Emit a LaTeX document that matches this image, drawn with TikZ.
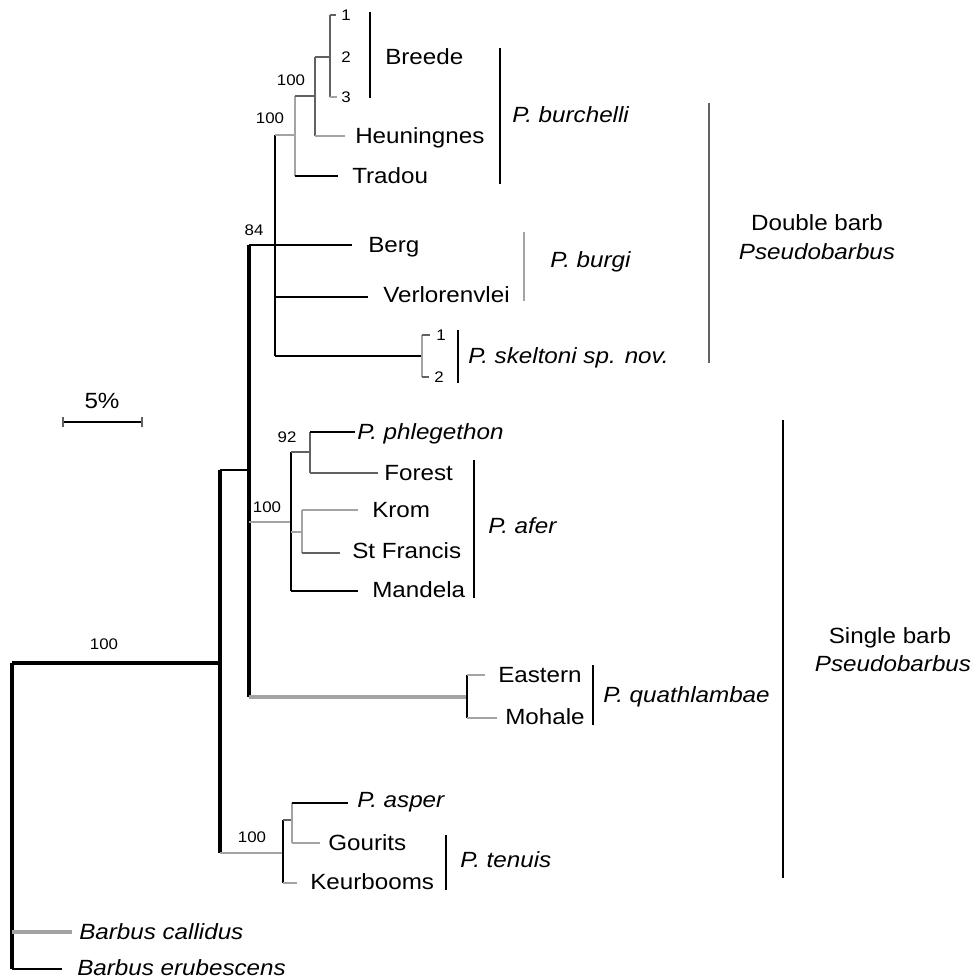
\documentclass[tikz,border=0pt]{standalone}
\usepackage{fontspec}
\setmainfont{Liberation Sans}[FakeStretch=1.1]
\definecolor{lg}{gray}{0.64}
\definecolor{dg}{gray}{0.38}
\begin{document}
\begin{tikzpicture}[x=0.75pt,y=-0.75pt,
  br/.style={line width=1.7pt,black},
  thk/.style={line width=2.4pt,black},
  gbr/.style={line width=1.7pt,lg},
  dbr/.style={line width=1.7pt,dg},
  bar/.style={line width=1.8pt,black},
  lab/.style={anchor=west,inner sep=0pt,text height=11.8pt,text depth=0pt,font=\fontsize{16.5}{19}\selectfont},
  ilab/.style={lab,font=\fontsize{16.5}{19}\selectfont\itshape},
  clab/.style={anchor=center,inner sep=0pt,text height=11.8pt,text depth=0pt,font=\fontsize{16.5}{19}\selectfont},
  num/.style={anchor=center,inner sep=0pt,text height=8.2pt,text depth=0pt,font=\fontsize{11.5}{13}\selectfont}]
\useasboundingbox (0,0) rectangle (972,980);
% ---------- coordinates ----------
\coordinate (Rt) at (12,663); \coordinate (Rb) at (12,969); \coordinate (Rc) at (12,932);
\coordinate (callT) at (72,932); \coordinate (eruT) at (62,969);
\coordinate (As) at (220,663); \coordinate (At) at (220,470); \coordinate (Ab) at (220,853);
\coordinate (Bs) at (249,470); \coordinate (Bt) at (249,245); \coordinate (Bb) at (249,697);
\coordinate (Bf) at (249,522);
\coordinate (Cs) at (275,245); \coordinate (Ct) at (275,135); \coordinate (Cb) at (275,356);
\coordinate (Cv) at (275,297);
\coordinate (bergT) at (352,245); \coordinate (verlT) at (368,297);
\coordinate (Ds) at (295,135); \coordinate (Dt) at (295,96); \coordinate (Db) at (295,176);
\coordinate (tradT) at (338,176);
\coordinate (Es) at (315,96); \coordinate (Et) at (315,57); \coordinate (Eb) at (315,136);
\coordinate (heunT) at (345,136);
\coordinate (Brs) at (330,57); \coordinate (Brt) at (330,15); \coordinate (Brb) at (330,97);
\coordinate (br1) at (336,15); \coordinate (br3) at (337,97);
\coordinate (Sks) at (422,356); \coordinate (Skt) at (422,335); \coordinate (Skb) at (422,377);
\coordinate (sk1) at (430,335); \coordinate (sk2) at (429,377);
\coordinate (Fs) at (291,522); \coordinate (Ft) at (291,452); \coordinate (Fb) at (291,591);
\coordinate (Fk) at (291,532); \coordinate (mandT) at (358,591);
\coordinate (Gs) at (310,452); \coordinate (Gt) at (310,432); \coordinate (Gb) at (310,473);
\coordinate (phlT) at (355,432); \coordinate (forT) at (378,473);
\coordinate (Ks) at (302,532); \coordinate (Kt) at (302,510); \coordinate (Kb) at (302,553);
\coordinate (kromT) at (358,510); \coordinate (stfT) at (340,553);
\coordinate (Qs) at (467,697); \coordinate (Qt) at (467,675); \coordinate (Qb) at (467,718);
\coordinate (eastT) at (485,675); \coordinate (mohT) at (497,718);
\coordinate (Ts) at (283,853); \coordinate (Tt) at (283,820); \coordinate (Tb) at (283,883);
\coordinate (keuT) at (297,883);
\coordinate (Us) at (292,820); \coordinate (Ut) at (292,803); \coordinate (Ub) at (292,843);
\coordinate (aspT) at (348,803); \coordinate (gouT) at (320,843);
% ---------- branches ----------
\draw[thk] (Rt) -- (Rb);
\draw[thk] (Rt) -- (As);
\draw[line width=2.4pt,lg] (Rc) -- (callT);
\draw[br] (Rb) -- (eruT);
\draw[thk] (At) -- (Ab);
\draw[br] (At) -- (Bs);
\draw[gbr] (Ab) -- (Ts);
\draw[thk] (Bt) -- (Bb);
\draw[br] (Bt) -- (Cs) -- (bergT);
\draw[gbr] (Bf) -- (Fs);
\draw[line width=2.4pt,lg] (Bb) -- (Qs);
\draw[br] (Ct) -- (Cb);
\draw[gbr] (Ct) -- (Ds);
\draw[br] (Cv) -- (verlT);
\draw[br] (Cb) -- (Sks);
\draw[gbr] (Dt) -- (Db);
\draw[dbr] (Dt) -- (Es);
\draw[br] (Db) -- (tradT);
\draw[dbr] (Et) -- (Eb);
\draw[dbr] (Et) -- (Brs);
\draw[gbr] (Eb) -- (heunT);
\draw[dbr] (Brt) -- (Brb);
\draw[dbr] (Brt) -- (br1);
\draw[gbr] (Brb) -- (br3);
\draw[gbr] (Skt) -- (Skb);
\draw[dbr] (Skt) -- (sk1);
\draw[dbr] (Skb) -- (sk2);
\draw[br] (Ft) -- (Fb);
\draw[dbr] (Ft) -- (Gs);
\draw[gbr] (Fk) -- (Ks);
\draw[br] (Fb) -- (mandT);
\draw[dbr] (Gt) -- (Gb);
\draw[br] (Gt) -- (phlT);
\draw[dbr] (Gb) -- (forT);
\draw[gbr] (Kt) -- (Kb);
\draw[gbr] (Kt) -- (kromT);
\draw[dbr] (Kb) -- (stfT);
\draw[br] (Qt) -- (Qb);
\draw[gbr] (Qt) -- (eastT);
\draw[gbr] (Qb) -- (mohT);
\draw[br] (Tt) -- (Tb);
\draw[dbr] (Tt) -- (Us);
\draw[gbr] (Tb) -- (keuT);
\draw[gbr] (Ut) -- (Ub);
\draw[br] (Ut) -- (aspT);
\draw[gbr] (Ub) -- (gouT);
% ---------- group bars ----------
\coordinate (breA) at (370,12); \coordinate (breB) at (370,98);
\coordinate (burA) at (500,48); \coordinate (burB) at (500,184);
\coordinate (bgA) at (524,232); \coordinate (bgB) at (524,301);
\coordinate (skA) at (458,330); \coordinate (skB) at (458,383);
\coordinate (dbA) at (709,103); \coordinate (dbB) at (709,363);
\coordinate (afA) at (474,460); \coordinate (afB) at (474,598);
\coordinate (quA) at (593,665); \coordinate (quB) at (593,725);
\coordinate (sbA) at (783,420); \coordinate (sbB) at (783,878);
\coordinate (teA) at (446,835); \coordinate (teB) at (446,890);
\draw[bar] (breA) -- (breB);
\draw[bar] (burA) -- (burB);
\draw[line width=1.8pt,lg] (bgA) -- (bgB);
\draw[bar] (skA) -- (skB);
\draw[line width=1.8pt,dg] (dbA) -- (dbB);
\draw[bar] (afA) -- (afB);
\draw[bar] (quA) -- (quB);
\draw[bar] (sbA) -- (sbB);
\draw[bar] (teA) -- (teB);
% ---------- scale bar ----------
\coordinate (scA) at (63,422); \coordinate (scB) at (142,422);
\draw[br] (scA) -- (scB);
\draw[line width=1pt,dg] ([yshift=-4pt]scA) -- ([yshift=4pt]scA);
\draw[line width=1pt,dg] ([yshift=-4pt]scB) -- ([yshift=4pt]scB);
\node[clab] (sc) at (102,401) {5\%};
% ---------- bootstrap numbers ----------
\node[num] (b1) at (104,644) {100};
\node[num] (b2) at (291,80) {100};
\node[num] (b3) at (270,118) {100};
\node[num] (b4) at (254,230) {84};
\node[num] (b5) at (287,437) {92};
\node[num] (b6) at (267,507) {100};
\node[num] (b7) at (252,837) {100};
\node[num] (n1) at (346,15) {1};
\node[num] (n2) at (346,57) {2};
\node[num] (n3) at (346,97) {3};
\node[num] (m1) at (441,335) {1};
\node[num] (m2) at (439,377) {2};
% ---------- taxon labels ----------
\node[lab] (breede) at (385,57) {Breede};
\node[lab] (heun) at (355,136) {Heuningnes};
\node[lab] (trad) at (352,176) {Tradou};
\node[ilab] (burch) at (512,115) {P. burchelli};
\node[lab] (berg) at (368,245) {Berg};
\node[lab] (verl) at (383,295) {Verlorenvlei};
\node[ilab] (burgi) at (550,260) {P. burgi};
\node[ilab] (skel) at (468,356) {P. skeltoni sp. nov.};
\node[clab] (db1) at (817,223) {Double barb};
\node[clab,font=\fontsize{16.5}{19}\selectfont\itshape] (db2) at (817,252) {Pseudobarbus};
\node[ilab] (phl) at (357,432) {P. phlegethon};
\node[lab] (forest) at (384,473) {Forest};
\node[lab] (krom) at (372,510) {Krom};
\node[lab] (stf) at (352,551) {St Francis};
\node[lab] (mand) at (372,590) {Mandela};
\node[ilab] (afer) at (488,526) {P. afer};
\node[lab] (east) at (498,675) {Eastern};
\node[lab] (moh) at (505,717) {Mohale};
\node[ilab] (quath) at (603,695) {P. quathlambae};
\node[clab] (sb1) at (890,636) {Single barb};
\node[clab,font=\fontsize{16.5}{19}\selectfont\itshape] (sb2) at (893,664) {Pseudobarbus};
\node[ilab] (asper) at (357,800) {P. asper};
\node[lab] (gour) at (328,843) {Gourits};
\node[lab] (keur) at (310,882) {Keurbooms};
\node[ilab] (ten) at (460,860) {P. tenuis};
\node[ilab] (call) at (79,932) {Barbus callidus};
\node[ilab] (eru) at (77,968) {Barbus erubescens};
\end{tikzpicture}
\end{document}
